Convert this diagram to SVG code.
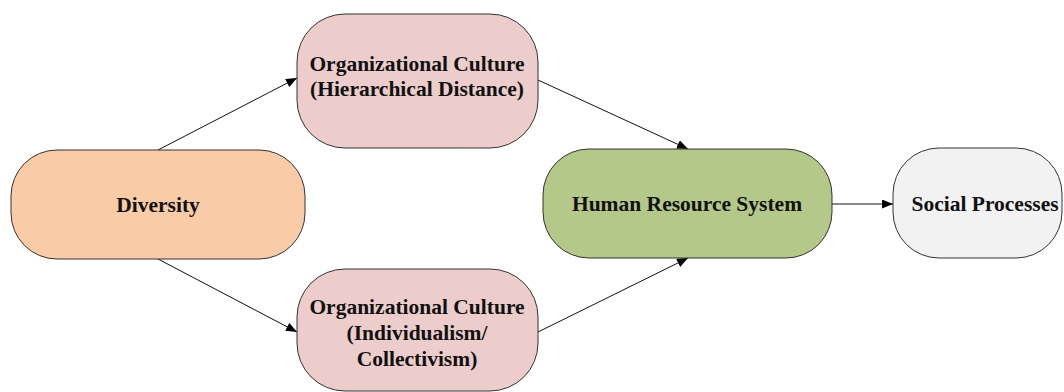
<svg xmlns="http://www.w3.org/2000/svg" width="1064" height="392" viewBox="0 0 1064 392">
  <defs>
    <marker id="arrow" viewBox="0 0 11 9" refX="11" refY="4.5" markerWidth="11" markerHeight="9" markerUnits="userSpaceOnUse" orient="auto">
      <path d="M0,0 L11,4.5 L0,9 Z" fill="#000"/>
    </marker>
    <style>
      .node rect { stroke: #333; stroke-width: 1; }
      .label { font-family: "Liberation Serif", "Times New Roman", serif; font-weight: bold; font-size: 21.5px; fill: #111; text-anchor: middle; }
      .edge { stroke: #111; stroke-width: 1; fill: none; marker-end: url(#arrow); }
    </style>
  </defs>

  <!-- connectors -->
  <g id="connectors">
    <line class="edge" x1="158" y1="150" x2="297" y2="78"/>
    <line class="edge" x1="158" y1="259" x2="297" y2="332"/>
    <line class="edge" x1="538" y1="80" x2="688" y2="149"/>
    <line class="edge" x1="538" y1="332" x2="688" y2="258"/>
    <line class="edge" x1="832" y1="204" x2="893" y2="204"/>
  </g>

  <g id="diversity" class="node">
    <rect x="11" y="150" width="294" height="109" rx="46" ry="46" fill="#F9CBA6"/>
    <text class="label" x="158" y="212">Diversity</text>
  </g>

  <g id="culture-hierarchy" class="node">
    <rect x="297" y="14" width="241" height="134" rx="48" ry="48" fill="#ECCDCB"/>
    <text class="label" x="417" y="71">Organizational Culture</text>
    <text class="label" x="417" y="96">(Hierarchical Distance)</text>
  </g>

  <g id="culture-individualism" class="node">
    <rect x="297" y="269" width="241" height="122" rx="48" ry="48" fill="#ECCDCB"/>
    <text class="label" x="417" y="314">Organizational Culture</text>
    <text class="label" x="417" y="340">(Individualism/</text>
    <text class="label" x="417" y="366">Collectivism)</text>
  </g>

  <g id="hr-system" class="node">
    <rect x="543" y="149" width="289" height="109" rx="46" ry="46" fill="#B4C88A"/>
    <text class="label" x="687" y="211">Human Resource System</text>
  </g>

  <g id="social-processes" class="node">
    <rect x="893" y="148" width="169" height="110" rx="46" ry="46" fill="#F2F2F2"/>
    <text class="label" x="985" y="211">Social Processes</text>
  </g>
</svg>
